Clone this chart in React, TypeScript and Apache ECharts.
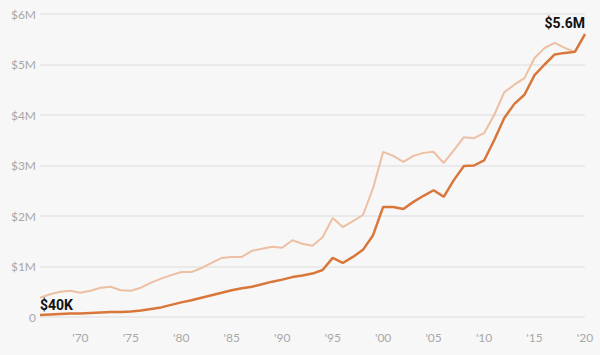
import React, { useEffect, useRef } from "react";
import * as echarts from "echarts";

const years: number[] = [];
for (let y = 1966; y <= 2020; y++) years.push(y);

// $ millions
const nominal = [
  0.04, 0.05, 0.06, 0.07, 0.07, 0.08, 0.09, 0.1, 0.1, 0.11,
  0.13, 0.16, 0.19, 0.24, 0.29, 0.33, 0.38, 0.43, 0.48, 0.53,
  0.57, 0.6, 0.65, 0.7, 0.74, 0.79, 0.82, 0.86, 0.93, 1.17,
  1.07, 1.19, 1.33, 1.62, 2.18, 2.18, 2.14, 2.28, 2.4, 2.51,
  2.38, 2.71, 2.99, 3.0, 3.1, 3.5, 3.94, 4.22, 4.4, 4.79,
  5.0, 5.2, 5.23, 5.25, 5.6,
];

const adjusted = [
  0.38, 0.45, 0.5, 0.52, 0.48, 0.52, 0.58, 0.6, 0.53, 0.52,
  0.58, 0.68, 0.76, 0.83, 0.89, 0.89, 0.97, 1.07, 1.17, 1.19,
  1.19, 1.31, 1.35, 1.39, 1.37, 1.52, 1.45, 1.41, 1.58, 1.96,
  1.78, 1.9, 2.02, 2.55, 3.27, 3.19, 3.07, 3.19, 3.25, 3.27,
  3.05, 3.3, 3.56, 3.54, 3.64, 4.0, 4.45, 4.6, 4.73, 5.13,
  5.33, 5.43, 5.33, 5.25, 5.6,
];

const startLabel = "$40K";
const endLabel = "$5.6M";

export default function App() {
  const ref = useRef<HTMLDivElement>(null);
  useEffect(() => {
    document.body.style.margin = "0";
    const chart = echarts.init(ref.current!, null, { renderer: "svg" });
    const last = nominal.length - 1;
    const lbl = {
      show: true,
      position: "top",
      color: "#111",
      fontWeight: "bold",
      fontSize: 14,
      fontFamily: "Roboto",
    };
    const darkData = nominal.map((v, i) => {
      if (i === 0) {
        return { value: v, label: { ...lbl, formatter: startLabel, align: "left", distance: 3 } };
      }
      if (i === last) {
        return { value: v, label: { ...lbl, formatter: endLabel, align: "right", distance: 4 } };
      }
      return v;
    });
    chart.setOption({
      animation: false,
      backgroundColor: "#f7f7f7",
      grid: { left: 40, right: 15, top: 14, bottom: 38 },
      xAxis: {
        type: "category",
        data: years,
        boundaryGap: false,
        axisLine: { show: false },
        axisTick: { show: false },
        axisLabel: {
          interval: (idx: number, val: string) => Number(val) % 5 === 0,
          formatter: (val: string) => "'" + String(val).slice(2),
          color: "#a8a8a8",
          fontSize: 12,
          fontFamily: "Lato",
          margin: 14,
        },
        splitLine: { show: false },
      },
      yAxis: {
        type: "value",
        min: 0,
        max: 6,
        interval: 1,
        axisLine: { show: false },
        axisTick: { show: false },
        axisLabel: {
          formatter: (v: number) => (v === 0 ? "0" : "$" + v + "M"),
          color: "#a8a8a8",
          fontSize: 12,
          fontFamily: "Lato",
          margin: 4,
        },
        splitLine: { lineStyle: { color: "#e6e6e6", width: 1.5 } },
      },
      series: [
        {
          type: "line",
          data: adjusted,
          showSymbol: false,
          lineStyle: { color: "#edbfa3", width: 2 },
          z: 2,
        },
        {
          type: "line",
          data: darkData,
          showSymbol: true,
          symbol: "circle",
          symbolSize: 0,
          itemStyle: { color: "#d9763a" },
          lineStyle: { color: "#d9763a", width: 2.5 },
          z: 3,
        },
      ],
    });
    return () => chart.dispose();
  }, []);
  return <div ref={ref} style={{ width: 600, height: 355 }} />;
}
